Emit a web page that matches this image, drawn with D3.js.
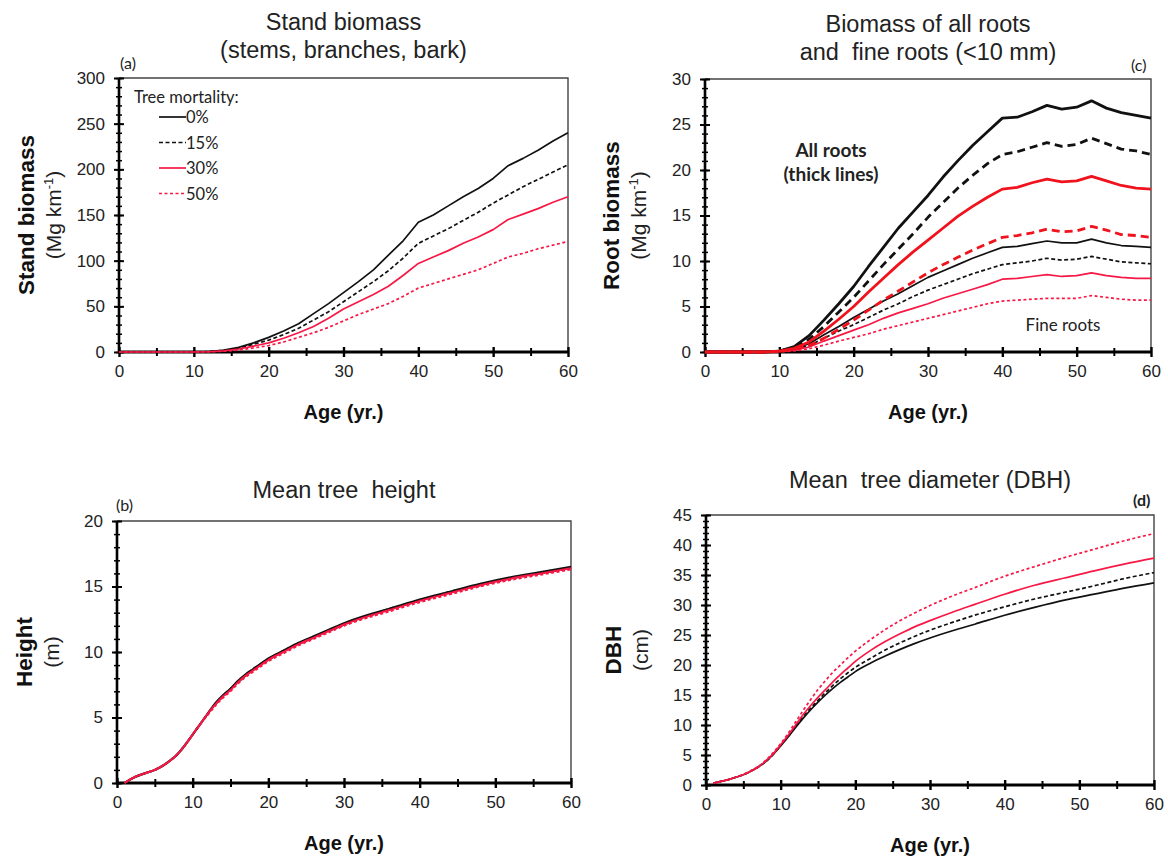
<!DOCTYPE html>
<html>
<head>
<meta charset="utf-8">
<script src="https://cdn.jsdelivr.net/npm/d3@7"></script>
<style>
  body { margin: 0; background: #fff; }
  svg { display: block; }
  .tick text { font-family: "Liberation Sans", Arial, sans-serif; font-size: 17px; fill: #222; }
</style>
</head>
<body>
<svg width="1168" height="862"></svg>
<script>
const svg = d3.select("svg");

// ---- data ----
const mortality = ["0%", "15%", "30%", "50%"];

// (a) stand biomass, Mg km-1
const standAges = [0,2,4,6,8,10,12,14,16,18,20,22,24,26,28,30,32,34,36,38,40,42,44,46,48,50,52,54,56,58,60];
const stand0  = [0,0,0,0,0,0,0.5,2,5,10,16,23,31,42,53,65,77,90,106,122,142,150,160,170,179,190,204,212,221,231,240];
const stand15 = [0,0,0,0,0,0,0.4,1.7,4.3,8.5,13,19,26,35,44,55,66,77,89,103,119,127,135,144,153,163,172,181,189,197,205];
const stand30 = [0,0,0,0,0,0,0.3,1.3,3.3,6.5,10,15,21,28,37,47,55,63,72,84,97,104,111,119,126,134,145,151,157,164,170];
const stand50 = [0,0,0,0,0,0,0.2,0.8,2.2,4.5,7,11,16,21,27,34,41,47,53,61,70,75,80,85,90,97,104,108,113,117,121];

// (c) root biomass, all roots (thick) and fine roots (thin)
const rootAges = standAges;
const allRoots0  = [0,0,0,0,0,0.1,0.6,1.8,3.5,5.3,7.2,9.4,11.5,13.6,15.4,17.2,19.2,21,22.7,24.2,25.7,25.8,26.4,27.1,26.7,26.9,27.6,26.8,26.3,26,25.7];
const allRoots15 = [0,0,0,0,0,0.1,0.5,1.4,2.8,4.4,6,7.8,9.6,11.3,13,14.8,16.4,18,19.4,20.7,21.7,22,22.5,23,22.6,22.8,23.5,22.9,22.3,22.1,21.7];
const allRoots30 = [0,0,0,0,0,0.1,0.4,1.1,2.3,3.6,5,6.6,8.1,9.6,11,12.3,13.6,14.9,16,17,17.9,18.1,18.6,19,18.7,18.8,19.3,18.8,18.3,18,17.9];
const allRoots50 = [0,0,0,0,0,0.05,0.3,0.7,1.5,2.5,3.5,4.6,5.7,6.7,7.7,8.7,9.6,10.4,11.2,11.9,12.6,12.8,13.1,13.5,13.2,13.3,13.8,13.4,12.9,12.8,12.6];
const fineRoots0  = [0,0,0,0,0,0.05,0.35,0.9,1.9,2.8,3.8,4.7,5.6,6.4,7.3,8.2,8.9,9.6,10.3,10.9,11.5,11.6,11.9,12.2,12,12,12.4,12,11.7,11.6,11.5];
const fineRoots15 = [0,0,0,0,0,0.04,0.3,0.7,1.5,2.3,3,3.8,4.6,5.3,6.1,6.8,7.4,8,8.6,9.1,9.6,9.8,10,10.3,10.1,10.2,10.5,10.2,9.9,9.8,9.7];
const fineRoots30 = [0,0,0,0,0,0.03,0.2,0.55,1.2,1.8,2.4,3,3.7,4.3,4.8,5.3,5.9,6.4,6.9,7.4,8,8.1,8.3,8.5,8.3,8.4,8.7,8.4,8.2,8.1,8.1];
const fineRoots50 = [0,0,0,0,0,0.02,0.12,0.35,0.75,1.2,1.6,2,2.5,2.9,3.3,3.7,4.1,4.5,4.9,5.3,5.6,5.7,5.8,5.9,5.9,5.9,6.2,6,5.8,5.7,5.7];

// (b) mean tree height, m
const treeAges = [1,2,3,4,5,6,7,8,9,10,11,12,13,14,15,16,17,18,19,20,22,24,26,28,30,33,36,40,44,48,52,56,60];
const height0  = [0,0.35,0.6,0.8,1.0,1.3,1.7,2.2,2.9,3.7,4.5,5.3,6.1,6.7,7.2,7.8,8.3,8.7,9.1,9.5,10.1,10.7,11.2,11.7,12.2,12.8,13.3,14.0,14.6,15.2,15.7,16.1,16.5];
const height15 = [0,0.35,0.6,0.8,1.0,1.3,1.7,2.2,2.9,3.7,4.5,5.3,6.0,6.6,7.2,7.7,8.2,8.7,9.1,9.4,10.1,10.6,11.1,11.6,12.1,12.7,13.3,13.9,14.6,15.1,15.6,16.0,16.4];
const height30 = [0,0.35,0.6,0.8,1.0,1.3,1.7,2.2,2.9,3.7,4.5,5.3,6.0,6.6,7.1,7.7,8.2,8.6,9.0,9.4,10.0,10.6,11.1,11.6,12.1,12.7,13.2,13.9,14.5,15.1,15.6,16.0,16.4];
const height50 = [0,0.35,0.6,0.8,1.0,1.3,1.7,2.2,2.9,3.7,4.5,5.2,5.9,6.5,7.0,7.6,8.1,8.5,8.9,9.3,9.9,10.5,11.0,11.5,12.0,12.6,13.1,13.8,14.4,15.0,15.5,15.9,16.3];

// (d) mean tree diameter, cm
const dbh0  = [0.3,0.6,0.9,1.3,1.7,2.3,3.0,3.9,5.1,6.5,8.0,9.6,11.1,12.5,13.8,15.0,16.1,17.1,18.0,18.9,20.3,21.5,22.6,23.6,24.5,25.7,26.8,28.3,29.6,30.8,31.8,32.8,33.7];
const dbh15 = [0.3,0.6,0.9,1.3,1.7,2.3,3.0,3.9,5.1,6.6,8.1,9.8,11.4,12.8,14.1,15.4,16.6,17.7,18.7,19.6,21.1,22.5,23.7,24.8,25.8,27.1,28.3,29.7,31.0,32.1,33.2,34.4,35.4];
const dbh30 = [0.3,0.6,0.9,1.3,1.7,2.3,3.0,4.0,5.2,6.7,8.3,10.0,11.7,13.2,14.6,15.9,17.2,18.4,19.5,20.6,22.4,23.9,25.2,26.4,27.4,28.8,30.1,31.8,33.3,34.5,35.7,36.8,37.8];
const dbh50 = [0.3,0.6,0.9,1.3,1.8,2.4,3.1,4.1,5.4,6.9,8.6,10.5,12.4,14.2,15.9,17.4,18.8,20.0,21.2,22.3,24.2,25.9,27.4,28.7,29.9,31.5,32.9,34.8,36.4,37.9,39.3,40.7,41.9];

const ageTicks = [0,10,20,30,40,50,60];

// ---- styles per mortality level ----
const red = "#f71845";
const lineStyle = {
  "0%":  { color: "#111", dash: null },
  "15%": { color: "#111", dash: "4,2.5" },
  "30%": { color: red,    dash: null },
  "50%": { color: red,    dash: "3,2.5" }
};

const font = "'Liberation Sans', Arial, sans-serif";
const calibri = "Lato, 'Open Sans', sans-serif";

function makePanel(opt) {
  const x = d3.scaleLinear().domain([0, 60]).range([opt.left, opt.right]);
  const y = d3.scaleLinear().domain([0, opt.yMax]).range([opt.bottom, opt.top]);
  const g = svg.append("g");

  // frame top & right
  g.append("path")
    .attr("d", `M${opt.left},${opt.top}H${opt.right}V${opt.bottom}`)
    .attr("fill", "none").attr("stroke", "#444").attr("stroke-width", 1.4);

  // minor ticks
  const yMinor = g.append("g").attr("transform", `translate(${opt.left},0)`)
    .call(d3.axisLeft(y).tickValues(d3.range(0, opt.yMax + 0.001, opt.yMinor)).tickFormat("").tickSize(3));
  yMinor.selectAll(".tick line").attr("x1", 3).attr("stroke-width", 1.5);
  yMinor.select(".domain").remove();
  const xMinor = g.append("g").attr("transform", `translate(0,${opt.bottom})`)
    .call(d3.axisBottom(x).tickValues(d3.range(5, 60, 10)).tickFormat("").tickSize(4));
  xMinor.selectAll(".tick line").attr("y1", -4).attr("stroke-width", 2);
  xMinor.select(".domain").remove();

  // major axes
  const yAxis = g.append("g").attr("transform", `translate(${opt.left},0)`)
    .call(d3.axisLeft(y).tickValues(d3.range(0, opt.yMax + 0.001, opt.yMajor)).tickSize(5).tickPadding(9));
  yAxis.selectAll(".tick line").attr("x1", 5).attr("stroke-width", 2);
  yAxis.select(".domain").attr("stroke-width", 2.6).attr("d", `M0,${opt.bottom}V${opt.top}`);
  const xAxis = g.append("g").attr("transform", `translate(0,${opt.bottom})`)
    .call(d3.axisBottom(x).tickValues(ageTicks).tickSize(5).tickPadding(8));
  xAxis.selectAll(".tick line").attr("y1", -5).attr("stroke-width", 2.4);
  xAxis.select(".domain").attr("stroke-width", 2.8).attr("d", `M${opt.left},0H${opt.right}`);

  // lines
  opt.series.forEach(s => {
    const st = lineStyle[s.level];
    const line = d3.line().x((d, i) => x(s.ages[i])).y(d => y(d)).curve(opt.curve || d3.curveLinear);
    g.append("path")
      .datum(s.values)
      .attr("d", line)
      .attr("fill", "none")
      .attr("stroke", s.color || st.color)
      .attr("stroke-width", s.width || 1.7)
      .attr("stroke-dasharray", st.dash ? (s.width > 2.5 ? "8,5" : st.dash) : null)
      .attr("stroke-linejoin", "round");
  });

  // titles
  opt.title.forEach((t, i) => {
    svg.append("text")
      .attr("x", (opt.left + opt.right) / 2).attr("y", opt.titleY + i * 28)
      .attr("text-anchor", "middle")
      .attr("font-family", font).attr("font-size", 23.5).attr("fill", "#222")
      .style("white-space", "pre")
      .text(t);
  });

  // panel letter
  svg.append("text")
    .attr("x", opt.letterX).attr("y", opt.letterY)
    .attr("font-family", calibri).attr("font-size", 16).attr("fill", "#222")
    .attr("font-weight", opt.letterBold ? "bold" : null)
    .text(opt.letter);

  // x label
  svg.append("text")
    .attr("x", (opt.left + opt.right) / 2).attr("y", opt.bottom + 67)
    .attr("text-anchor", "middle")
    .attr("font-family", font).attr("font-size", 20).attr("font-weight", "bold").attr("fill", "#111")
    .text("Age (yr.)");

  // y label (bold + units)
  const cy = (opt.top + opt.bottom) / 2;
  svg.append("text")
    .attr("transform", `translate(${opt.yLabelX},${cy}) rotate(-90)`)
    .attr("text-anchor", "middle")
    .attr("font-family", font).attr("font-size", 22.5).attr("font-weight", "bold").attr("fill", "#111")
    .text(opt.yLabel);
  const u = svg.append("text")
    .attr("transform", `translate(${opt.yLabelX + 27},${cy}) rotate(-90)`)
    .attr("text-anchor", "middle")
    .attr("font-family", font).attr("font-size", 21).attr("fill", "#222");
  u.append("tspan").text(opt.yUnit);
  if (opt.yUnitSup) {
    u.append("tspan").attr("font-size", 13).attr("dy", -8).text(opt.yUnitSup);
    u.append("tspan").attr("dy", 8).text(")");
  }

  return { x, y, g };
}

// (a)
makePanel({
  left: 119, right: 568, top: 78, bottom: 352, yMax: 300, yMajor: 50, yMinor: 10,
  title: ["Stand biomass", "(stems, branches, bark)"], titleY: 30,
  letter: "(a)", letterX: 120, letterY: 69,
  yLabel: "Stand biomass", yUnit: "(Mg km", yUnitSup: "-1", yLabelX: 34,
  series: [
    { level: "0%", ages: standAges, values: stand0 },
    { level: "15%", ages: standAges, values: stand15 },
    { level: "30%", ages: standAges, values: stand30 },
    { level: "50%", ages: standAges, values: stand50 }
  ]
});

// legend in (a)
svg.append("text").attr("x", 134).attr("y", 103)
  .attr("font-family", calibri).attr("font-size", 16.5).attr("fill", "#222").text("Tree mortality:");
mortality.forEach((m, i) => {
  const yy = 117 + i * 25.5;
  const st = lineStyle[m];
  svg.append("line").attr("x1", 159).attr("x2", 186).attr("y1", yy).attr("y2", yy)
    .attr("stroke", st.color).attr("stroke-width", 1.7).attr("stroke-dasharray", st.dash);
  svg.append("text").attr("x", 186).attr("y", yy + 6)
    .attr("font-family", calibri).attr("font-size", 16.5).attr("fill", "#222").text(m);
});

// (c)
const thickRed = "#f0121c";
makePanel({
  left: 705, right: 1151, top: 79, bottom: 352, yMax: 30, yMajor: 5, yMinor: 1,
  title: ["Biomass of all roots", "and  fine roots (<10 mm)"], titleY: 32,
  letter: "(c)", letterX: 1131, letterY: 71,
  yLabel: "Root biomass", yUnit: "(Mg km", yUnitSup: "-1", yLabelX: 619,
  series: [
    { level: "0%", ages: rootAges, values: fineRoots0 },
    { level: "15%", ages: rootAges, values: fineRoots15 },
    { level: "30%", ages: rootAges, values: fineRoots30 },
    { level: "50%", ages: rootAges, values: fineRoots50 },
    { level: "0%", ages: rootAges, values: allRoots0, width: 2.8 },
    { level: "15%", ages: rootAges, values: allRoots15, width: 2.8 },
    { level: "30%", ages: rootAges, values: allRoots30, width: 2.8, color: thickRed },
    { level: "50%", ages: rootAges, values: allRoots50, width: 2.8, color: thickRed }
  ]
});
svg.append("text").attr("x", 831).attr("y", 157).attr("text-anchor", "middle")
  .attr("font-family", calibri).attr("font-size", 19).attr("font-weight", "bold").attr("fill", "#222").text("All roots");
svg.append("text").attr("x", 831).attr("y", 181).attr("text-anchor", "middle")
  .attr("font-family", calibri).attr("font-size", 19).attr("font-weight", "bold").attr("fill", "#222").text("(thick lines)");
svg.append("text").attr("x", 1063).attr("y", 331).attr("text-anchor", "middle")
  .attr("font-family", calibri).attr("font-size", 17).attr("fill", "#222").text("Fine roots");

// (b)
makePanel({
  left: 117, right: 571, top: 521, bottom: 783, yMax: 20, yMajor: 5, yMinor: 1,
  title: ["Mean tree  height"], titleY: 498,
  letter: "(b)", letterX: 116, letterY: 511,
  yLabel: "Height", yUnit: "(m)", yLabelX: 32,
  curve: d3.curveMonotoneX,
  series: [
    { level: "0%", ages: treeAges, values: height0, width: 2.2 },
    { level: "15%", ages: treeAges, values: height15, width: 2 },
    { level: "30%", ages: treeAges, values: height30, width: 2 },
    { level: "50%", ages: treeAges, values: height50, width: 2 }
  ]
});

// (d)
makePanel({
  left: 706, right: 1154, top: 515, bottom: 785, yMax: 45, yMajor: 5, yMinor: 1,
  title: ["Mean  tree diameter (DBH)"], titleY: 488,
  letter: "(d)", letterX: 1133, letterY: 506, letterBold: true,
  yLabel: "DBH", yUnit: "(cm)", yLabelX: 621,
  curve: d3.curveMonotoneX,
  series: [
    { level: "0%", ages: treeAges, values: dbh0 },
    { level: "15%", ages: treeAges, values: dbh15 },
    { level: "30%", ages: treeAges, values: dbh30 },
    { level: "50%", ages: treeAges, values: dbh50 }
  ]
});
</script>
</body>
</html>
